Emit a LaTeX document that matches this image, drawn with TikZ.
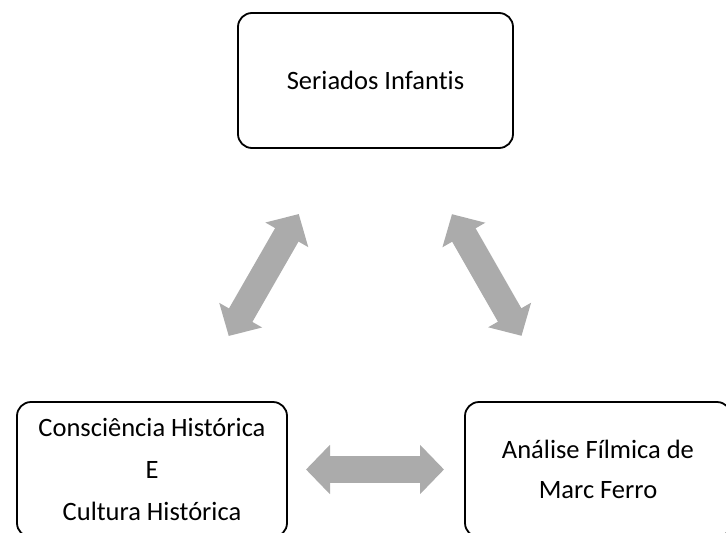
\documentclass[tikz,border=0pt]{standalone}
\usepackage{fontspec}
\setmainfont{Carlito}[Ligatures=NoCommon]
\usetikzlibrary{arrows.meta}
\definecolor{arrowgray}{HTML}{ABABAB}

\begin{document}
\begin{tikzpicture}[x=1pt,y=-1pt,
    box/.style={draw=black, line width=1.8pt, rounded corners=14pt,
      minimum height=135pt, inner sep=0pt, align=center,
      font=\fontsize{26.5}{42}\selectfont},
    link/.style={draw=arrowgray, line width=27pt,
      shorten <=154pt, shorten >=154pt,
      {Triangle[width=48pt,length=24pt]}-{Triangle[width=48pt,length=24pt]}}]
  \useasboundingbox (0,0) rectangle (726,533);
  \clip (0,0) rectangle (726,533);
% the three boxes
  \node [box, minimum width=275pt] (seriados) at (375.5,80.5) {Seriados Infantis};
  \node [box, minimum width=270pt] (consciencia) at (152,469.5)
    {Consciência Histórica\\E\\Cultura Histórica};
  \node [box, minimum width=266pt, font=\fontsize{26.5}{40}\selectfont] (ferro) at (598,469.5)
    {Análise Fílmica de\\Marc Ferro};
% double arrows between them
  \draw [link] (consciencia.center) -- (seriados.center);
  \draw [link] (seriados.center) -- (ferro.center);
  \draw [link] (consciencia.center) -- (ferro.center);
\end{tikzpicture}
\end{document}
